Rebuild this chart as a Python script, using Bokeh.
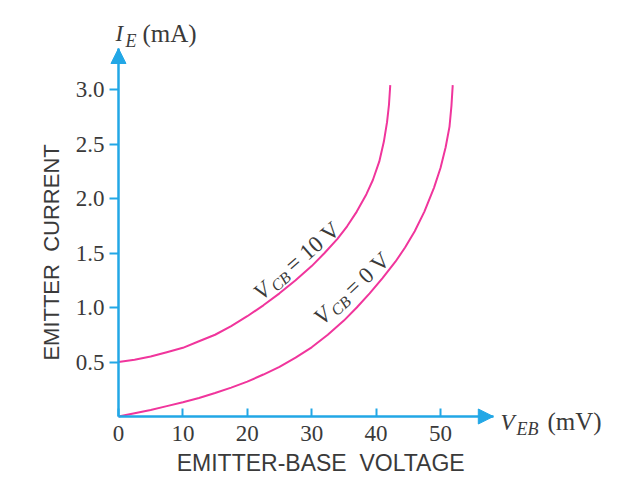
import math
from bokeh.plotting import figure
from bokeh.models import Range1d, FixedTicker, Label, Arrow, NormalHead, NumeralTickFormatter, LinearAxis
from bokeh.embed import file_html
from bokeh.resources import INLINE

# --- data ---
veb_cb10 = [0, 2.5, 5, 7.5, 10, 12.5, 15, 17.5, 20, 22.5, 25, 27.5, 30, 32, 34, 35.5, 37, 38.5,
            39.5, 40.5, 41.2, 41.7, 42.0, 42.2]
ie_cb10 = [0.50, 0.52, 0.55, 0.59, 0.63, 0.69, 0.75, 0.83, 0.92, 1.02, 1.13, 1.25, 1.38, 1.50,
           1.63, 1.745, 1.88, 2.04, 2.17, 2.34, 2.52, 2.70, 2.86, 3.04]
veb_cb0 = [0, 2.5, 5, 7.5, 10, 12.5, 15, 17.5, 20, 22.5, 25, 27.5, 30, 32.5, 35, 37, 39, 41, 43,
           44.5, 46, 47.5, 49, 50, 50.8, 51.4, 51.7, 51.9]
ie_cb0 = [0.00, 0.03, 0.06, 0.095, 0.13, 0.17, 0.215, 0.265, 0.32, 0.385, 0.455, 0.54, 0.635, 0.75,
          0.88, 1.00, 1.13, 1.27, 1.42, 1.55, 1.70, 1.88, 2.10, 2.28, 2.47, 2.66, 2.85, 3.04]
x_ticks = [0, 10, 20, 30, 40, 50]
y_ticks = [0.5, 1.0, 1.5, 2.0, 2.5, 3.0]

# axis extents (arrow tips) and visible window in data units
X_TIP, Y_TIP = 58.2, 3.376
X_MIN, X_MAX = -18.32, 77.64
Y_MIN, Y_MAX = -0.5596, 3.8165

BLUE = "#22a7e6"
PINK = "#f0359c"
TXT = "#3a3a3a"
SERIF = "Liberation Serif"
SANS = "Liberation Sans"

p = figure(width=618, height=477, x_range=Range1d(X_MIN, X_MAX), y_range=Range1d(Y_MIN, Y_MAX),
           output_backend="svg", toolbar_location=None,
           x_axis_location=None, y_axis_location=None, min_border=0)
p.outline_line_color = None
p.grid.visible = False
p.background_fill_color = "white"
p.border_fill_color = "white"

xax = LinearAxis(fixed_location=0, bounds=(0, X_TIP), ticker=FixedTicker(ticks=x_ticks))
yax = LinearAxis(fixed_location=0, bounds=(0, Y_TIP), ticker=FixedTicker(ticks=y_ticks),
                 formatter=NumeralTickFormatter(format="0.0"))
for ax in (xax, yax):
    ax.axis_line_color = BLUE
    ax.axis_line_width = 2.5
    ax.major_tick_line_color = BLUE
    ax.major_tick_line_width = 2
    ax.minor_tick_line_color = None
    ax.major_label_text_font = SERIF
    ax.major_label_text_font_size = "23px"
    ax.major_label_text_color = TXT

xax.major_tick_in = 8
xax.major_tick_out = 0
xax.major_label_standoff = 9
yax.major_tick_in = 0
yax.major_tick_out = 9
yax.major_label_standoff = 5
p.add_layout(xax, "below")
p.add_layout(yax, "left")

# arrow heads at the axis ends
p.add_layout(Arrow(x_start=0, y_start=Y_TIP * 0.9, x_end=0, y_end=Y_TIP, line_alpha=0,
                   end=NormalHead(size=15, fill_color=BLUE, line_color=BLUE)))
p.add_layout(Arrow(x_start=X_TIP * 0.9, y_start=0, x_end=X_TIP, y_end=0, line_alpha=0,
                   end=NormalHead(size=15, fill_color=BLUE, line_color=BLUE)))

# curves
p.line(veb_cb10, ie_cb10, line_color=PINK, line_width=2)
p.line(veb_cb0, ie_cb0, line_color=PINK, line_width=2)


def txt(x, y, text, size, italic=False, dx=0.0, dy=0.0, angle=0.0, font=SERIF,
        align="left", baseline="alphabetic"):
    p.add_layout(Label(x=x, y=y, x_offset=dx, y_offset=dy, text=text, text_font=font,
                       text_font_size=f"{size}px",
                       text_font_style="italic" if italic else "normal",
                       text_color=TXT, angle=angle, angle_units="deg",
                       text_align=align, text_baseline=baseline))


def rotated(x, y, angle, pieces):
    c, s = math.cos(math.radians(angle)), math.sin(math.radians(angle))
    for text, size, italic, d, sub in pieces:
        txt(x, y, text, size, italic, dx=d * c + sub * s, dy=d * s - sub * c, angle=angle)


# axis titles
txt(31.4, -0.43, "EMITTER-BASE\u00a0 VOLTAGE", 23, font=SANS, align="center")
txt(-10.4, 1.505, "EMITTER\u00a0 CURRENT", 22, font=SANS, angle=90, align="center")

# I_E (mA)
txt(-0.47, 3.514, "I", 23, italic=True)
txt(-0.47, 3.514, "E", 18, italic=True, dx=10, dy=-8)
txt(-0.47, 3.514, "(mA)", 25, dx=27)

# V_EB (mV)
txt(59.32, -0.055, "V", 23, italic=True)
txt(59.32, -0.055, "EB", 18, italic=True, dx=16, dy=-7)
txt(59.32, -0.055, "(mV)", 25, dx=47, dy=1)

# curve labels
rotated(21.5, 1.11, 41, [("V", 23, True, 0, 0), ("CB", 16, True, 17, 5), ("= 10 V", 23, False, 42, 0)])
rotated(30.9, 0.88, 43, [("V", 23, True, 0, 0), ("CB", 16, True, 17, 5), ("= 0 V", 23, False, 42, 0)])

open("out.html", "w").write(file_html(p, INLINE))
